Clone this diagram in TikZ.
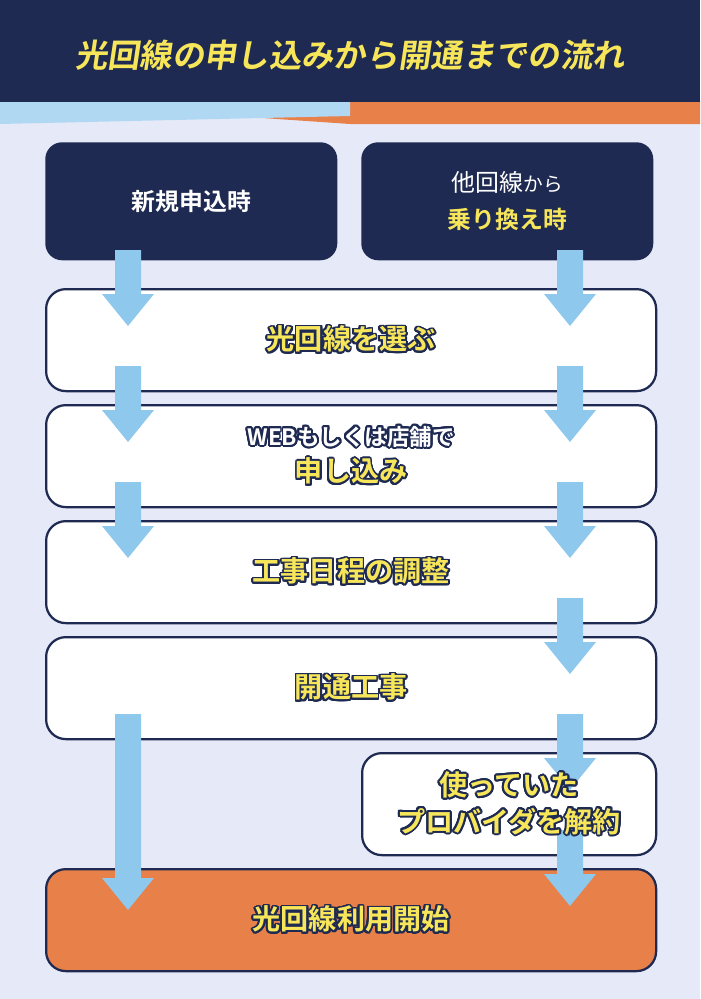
\documentclass[tikz,border=0pt]{standalone}
\usepackage{fontspec}
\newfontfamily\jp{Noto Sans CJK JP}[BoldFont={Noto Sans CJK JP Bold}]
\newfontfamily\jptitle{Noto Sans CJK JP Bold}[FakeSlant=0.15]
\usepackage{contour}
\contourlength{1.3pt}
\contournumber{24}
\usetikzlibrary{positioning}
\definecolor{navy}{HTML}{1E2A52}
\definecolor{skyarrow}{HTML}{8EC8EC}
\definecolor{orangebox}{HTML}{E8804A}
\definecolor{bgpale}{HTML}{E6EAF8}
\definecolor{yellowtxt}{HTML}{F7E65A}
\tikzset{
  stepbox/.style={draw=navy, line width=1.6pt, fill=white, rounded corners=14pt, minimum height=102*0.025cm},
  topbox/.style={fill=navy, rounded corners=12pt, minimum height=118*0.025cm, minimum width=292*0.025cm},
  boxtext/.style={font=\jp\bfseries\fontsize{20pt}{26pt}\selectfont, align=center},
  flowarrow/.style={fill=skyarrow},
}
\newcommand{\ylw}[1]{\contour{navy}{\textcolor{yellowtxt}{#1}}}
% block arrow: x, top y, bottom y (pixel coordinates)
\newcommand{\blockarrow}[3]{\fill[flowarrow] (#1-13,#2) -- (#1+13,#2) -- (#1+13,#3-32) -- (#1+26,#3-32) -- (#1,#3) -- (#1-26,#3-32) -- (#1-13,#3-32) -- cycle;}
\begin{document}
\begin{tikzpicture}[x=0.025cm,y=-0.025cm]
  \useasboundingbox (0,0) rectangle (700,999);
  % background and header
  \fill[bgpale] (0,0) rectangle (700,999);
  \fill[orangebox] (0,100) -- (700,100) -- (700,124) -- (350,124) -- cycle;
  \fill[skyarrow!70] (0,100) -- (350,100) -- (350,116) -- (0,124) -- cycle;
  \fill[navy] (0,0) rectangle (700,102);
  \node[font=\jptitle\fontsize{23pt}{26pt}\selectfont, text=yellowtxt] (title) at (350,55) {光回線の申し込みから開通までの流れ};
  % boxes
  \node[topbox, anchor=north west] (newapp) at (45,142) {};
  \node[boxtext, text=white, font=\jp\bfseries\fontsize{17pt}{22pt}\selectfont] at (newapp) {新規申込時};
  \node[topbox, anchor=north west] (switch) at (361,142) {};
  \node[boxtext, font=\jp\bfseries\fontsize{17pt}{26pt}\selectfont] at (switch) {\textcolor{white}{\mdseries 他回線\fontsize{14pt}{18pt}\selectfont から}\\\textcolor{yellowtxt}{乗り換え時}};
  \node[stepbox, anchor=north west, minimum width=610*0.025cm] (choose) at (45,288) {};
  \node[stepbox, anchor=north west, minimum width=610*0.025cm] (apply) at (45,404) {};
  \node[stepbox, anchor=north west, minimum width=610*0.025cm] (schedule) at (45,520) {};
  \node[stepbox, anchor=north west, minimum width=610*0.025cm] (work) at (45,636) {};
  \node[stepbox, anchor=north west, minimum width=294*0.025cm] (cancel) at (361,752) {};
  \node[stepbox, fill=orangebox, anchor=north west, minimum width=610*0.025cm] (start) at (45,868) {};
  % arrows
  \blockarrow{128}{250}{326}
  \blockarrow{128}{366}{442}
  \blockarrow{128}{482}{558}
  \blockarrow{128}{714}{910}
  \blockarrow{570}{250}{326}
  \blockarrow{570}{366}{442}
  \blockarrow{570}{482}{558}
  \blockarrow{570}{598}{674}
  \blockarrow{570}{714}{790}
  \blockarrow{570}{830}{906}
  % texts
  \node[boxtext] at (choose) {\ylw{光回線を選ぶ}};
  \node[boxtext] at (apply) {{\fontsize{16pt}{20pt}\selectfont\contour{navy}{\textcolor{white}{WEBもしくは店舗で}}}\\\ylw{申し込み}};
  \node[boxtext] at (schedule) {\ylw{工事日程の調整}};
  \node[boxtext] at (work) {\ylw{開通工事}};
  \node[boxtext] at (cancel) {\ylw{使っていた}\\\ylw{プロバイダを解約}};
  \node[boxtext] at (start) {\ylw{光回線利用開始}};
\end{tikzpicture}
\end{document}
